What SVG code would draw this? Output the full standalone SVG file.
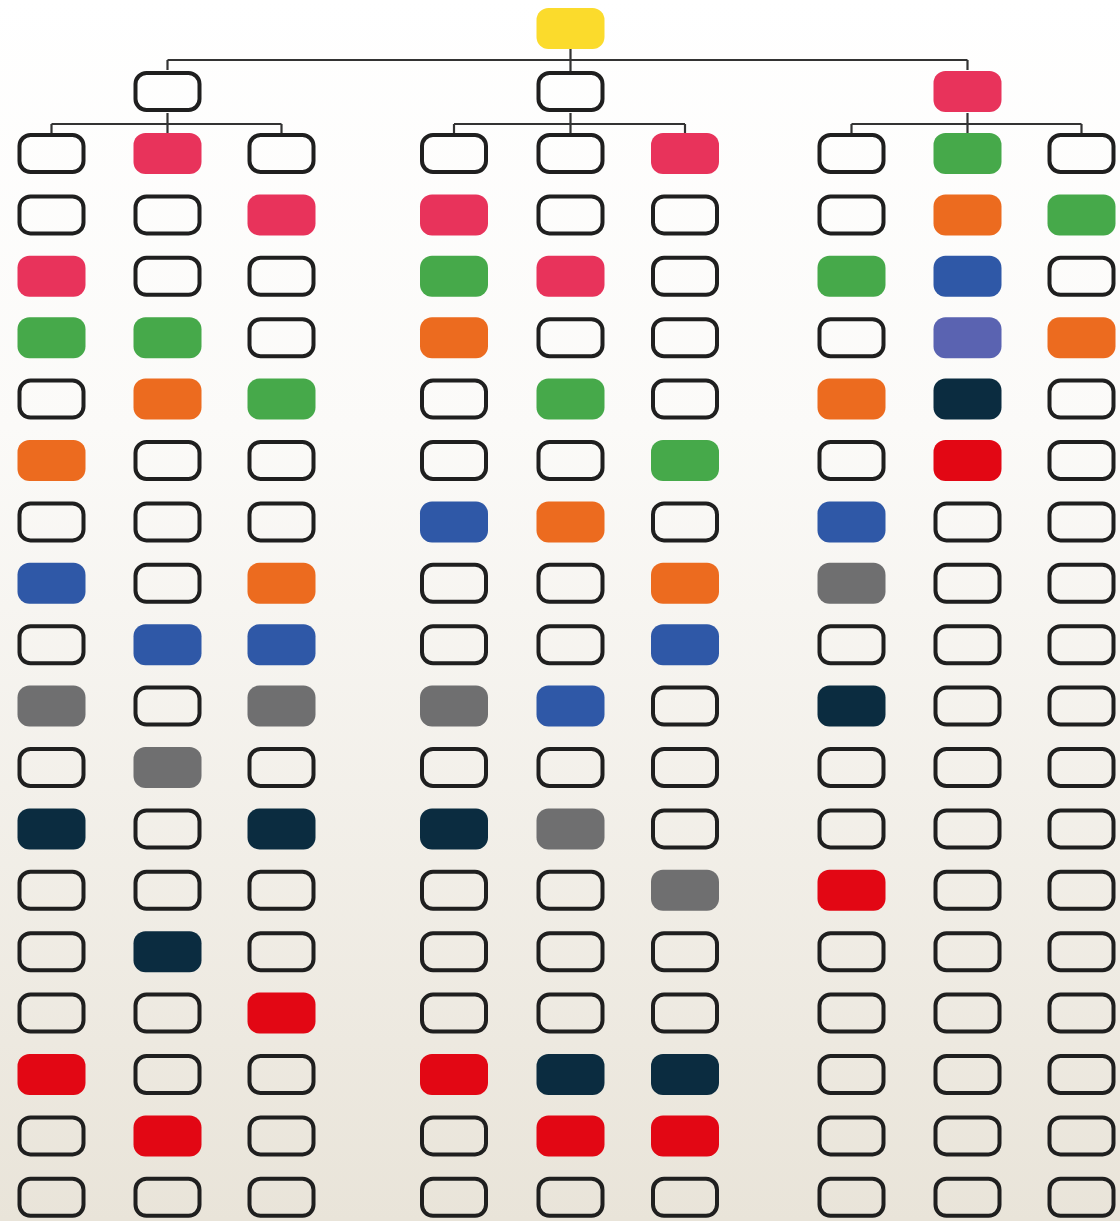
<svg xmlns="http://www.w3.org/2000/svg" xmlns:xlink="http://www.w3.org/1999/xlink" width="1120" height="1221" viewBox="0 0 1120 1221">
<defs>
<linearGradient id="bg" x1="0" y1="0" x2="0" y2="1">
<stop offset="0" stop-color="#ffffff"/>
<stop offset="0.35" stop-color="#fbfaf8"/>
<stop offset="1" stop-color="#e9e4d9"/>
</linearGradient>
<rect id="E" x="2" y="2" width="64" height="37" rx="11"/>
<rect id="F" x="0" y="0" width="68" height="41" rx="12"/>
</defs>
<style>
.e{fill:none;stroke:#1f1f1f;stroke-width:4}
.pk{fill:#e8335b}.gn{fill:#46a94a}.or{fill:#ec6b1f}.bl{fill:#2f58a7}.pu{fill:#5a63b1}.nv{fill:#0b2c40}.rd{fill:#e20714}.gy{fill:#6f6f70}.yl{fill:#fbdb2c}
.c{fill:none;stroke:#333;stroke-width:2.2}
</style>
<rect width="1120" height="1221" fill="url(#bg)"/>
<g id="connectors">
<path class="c" d="M570.5 48V60M167.5 60H967.5M167.5 60V70M570.5 60V71M967.5 60V70"/>
<path class="c" d="M167.5 113V124M51.5 124H281.5M51.5 124V133M167.5 124V133M281.5 124V133"/>
<path class="c" d="M570.5 113V124M454 124H685M454 124V133M570.5 124V133M685 124V133"/>
<path class="c" d="M967.5 113V124M851.5 124H1081.5M851.5 124V133M967.5 124V133M1081.5 124V133"/>
</g>
<g id="root" transform="translate(536.5,8)"><use href="#F" class="yl"/></g>
<g id="l2-a" transform="translate(133.5,71)"><use href="#E" class="e"/></g>
<g id="l2-b" transform="translate(536.5,71)"><use href="#E" class="e"/></g>
<g id="l2-c" transform="translate(933.5,71)"><use href="#F" class="pk"/></g>
<!-- row 1 -->
<g id="r1-a1" transform="translate(17.5,133)"><use href="#E" class="e"/></g>
<g id="r1-a2" transform="translate(133.5,133)"><use href="#F" class="pk"/></g>
<g id="r1-a3" transform="translate(247.5,133)"><use href="#E" class="e"/></g>
<g id="r1-b1" transform="translate(420,133)"><use href="#E" class="e"/></g>
<g id="r1-b2" transform="translate(536.5,133)"><use href="#E" class="e"/></g>
<g id="r1-b3" transform="translate(651,133)"><use href="#F" class="pk"/></g>
<g id="r1-c1" transform="translate(817.5,133)"><use href="#E" class="e"/></g>
<g id="r1-c2" transform="translate(933.5,133)"><use href="#F" class="gn"/></g>
<g id="r1-c3" transform="translate(1047.5,133)"><use href="#E" class="e"/></g>
<!-- row 2 -->
<g id="r2-a1" transform="translate(17.5,194.4)"><use href="#E" class="e"/></g>
<g id="r2-a2" transform="translate(133.5,194.4)"><use href="#E" class="e"/></g>
<g id="r2-a3" transform="translate(247.5,194.4)"><use href="#F" class="pk"/></g>
<g id="r2-b1" transform="translate(420,194.4)"><use href="#F" class="pk"/></g>
<g id="r2-b2" transform="translate(536.5,194.4)"><use href="#E" class="e"/></g>
<g id="r2-b3" transform="translate(651,194.4)"><use href="#E" class="e"/></g>
<g id="r2-c1" transform="translate(817.5,194.4)"><use href="#E" class="e"/></g>
<g id="r2-c2" transform="translate(933.5,194.4)"><use href="#F" class="or"/></g>
<g id="r2-c3" transform="translate(1047.5,194.4)"><use href="#F" class="gn"/></g>
<!-- row 3 -->
<g id="r3-a1" transform="translate(17.5,255.8)"><use href="#F" class="pk"/></g>
<g id="r3-a2" transform="translate(133.5,255.8)"><use href="#E" class="e"/></g>
<g id="r3-a3" transform="translate(247.5,255.8)"><use href="#E" class="e"/></g>
<g id="r3-b1" transform="translate(420,255.8)"><use href="#F" class="gn"/></g>
<g id="r3-b2" transform="translate(536.5,255.8)"><use href="#F" class="pk"/></g>
<g id="r3-b3" transform="translate(651,255.8)"><use href="#E" class="e"/></g>
<g id="r3-c1" transform="translate(817.5,255.8)"><use href="#F" class="gn"/></g>
<g id="r3-c2" transform="translate(933.5,255.8)"><use href="#F" class="bl"/></g>
<g id="r3-c3" transform="translate(1047.5,255.8)"><use href="#E" class="e"/></g>
<!-- row 4 -->
<g id="r4-a1" transform="translate(17.5,317.2)"><use href="#F" class="gn"/></g>
<g id="r4-a2" transform="translate(133.5,317.2)"><use href="#F" class="gn"/></g>
<g id="r4-a3" transform="translate(247.5,317.2)"><use href="#E" class="e"/></g>
<g id="r4-b1" transform="translate(420,317.2)"><use href="#F" class="or"/></g>
<g id="r4-b2" transform="translate(536.5,317.2)"><use href="#E" class="e"/></g>
<g id="r4-b3" transform="translate(651,317.2)"><use href="#E" class="e"/></g>
<g id="r4-c1" transform="translate(817.5,317.2)"><use href="#E" class="e"/></g>
<g id="r4-c2" transform="translate(933.5,317.2)"><use href="#F" class="pu"/></g>
<g id="r4-c3" transform="translate(1047.5,317.2)"><use href="#F" class="or"/></g>
<!-- row 5 -->
<g id="r5-a1" transform="translate(17.5,378.6)"><use href="#E" class="e"/></g>
<g id="r5-a2" transform="translate(133.5,378.6)"><use href="#F" class="or"/></g>
<g id="r5-a3" transform="translate(247.5,378.6)"><use href="#F" class="gn"/></g>
<g id="r5-b1" transform="translate(420,378.6)"><use href="#E" class="e"/></g>
<g id="r5-b2" transform="translate(536.5,378.6)"><use href="#F" class="gn"/></g>
<g id="r5-b3" transform="translate(651,378.6)"><use href="#E" class="e"/></g>
<g id="r5-c1" transform="translate(817.5,378.6)"><use href="#F" class="or"/></g>
<g id="r5-c2" transform="translate(933.5,378.6)"><use href="#F" class="nv"/></g>
<g id="r5-c3" transform="translate(1047.5,378.6)"><use href="#E" class="e"/></g>
<!-- row 6 -->
<g id="r6-a1" transform="translate(17.5,440)"><use href="#F" class="or"/></g>
<g id="r6-a2" transform="translate(133.5,440)"><use href="#E" class="e"/></g>
<g id="r6-a3" transform="translate(247.5,440)"><use href="#E" class="e"/></g>
<g id="r6-b1" transform="translate(420,440)"><use href="#E" class="e"/></g>
<g id="r6-b2" transform="translate(536.5,440)"><use href="#E" class="e"/></g>
<g id="r6-b3" transform="translate(651,440)"><use href="#F" class="gn"/></g>
<g id="r6-c1" transform="translate(817.5,440)"><use href="#E" class="e"/></g>
<g id="r6-c2" transform="translate(933.5,440)"><use href="#F" class="rd"/></g>
<g id="r6-c3" transform="translate(1047.5,440)"><use href="#E" class="e"/></g>
<!-- row 7 -->
<g id="r7-a1" transform="translate(17.5,501.4)"><use href="#E" class="e"/></g>
<g id="r7-a2" transform="translate(133.5,501.4)"><use href="#E" class="e"/></g>
<g id="r7-a3" transform="translate(247.5,501.4)"><use href="#E" class="e"/></g>
<g id="r7-b1" transform="translate(420,501.4)"><use href="#F" class="bl"/></g>
<g id="r7-b2" transform="translate(536.5,501.4)"><use href="#F" class="or"/></g>
<g id="r7-b3" transform="translate(651,501.4)"><use href="#E" class="e"/></g>
<g id="r7-c1" transform="translate(817.5,501.4)"><use href="#F" class="bl"/></g>
<g id="r7-c2" transform="translate(933.5,501.4)"><use href="#E" class="e"/></g>
<g id="r7-c3" transform="translate(1047.5,501.4)"><use href="#E" class="e"/></g>
<!-- row 8 -->
<g id="r8-a1" transform="translate(17.5,562.8)"><use href="#F" class="bl"/></g>
<g id="r8-a2" transform="translate(133.5,562.8)"><use href="#E" class="e"/></g>
<g id="r8-a3" transform="translate(247.5,562.8)"><use href="#F" class="or"/></g>
<g id="r8-b1" transform="translate(420,562.8)"><use href="#E" class="e"/></g>
<g id="r8-b2" transform="translate(536.5,562.8)"><use href="#E" class="e"/></g>
<g id="r8-b3" transform="translate(651,562.8)"><use href="#F" class="or"/></g>
<g id="r8-c1" transform="translate(817.5,562.8)"><use href="#F" class="gy"/></g>
<g id="r8-c2" transform="translate(933.5,562.8)"><use href="#E" class="e"/></g>
<g id="r8-c3" transform="translate(1047.5,562.8)"><use href="#E" class="e"/></g>
<!-- row 9 -->
<g id="r9-a1" transform="translate(17.5,624.2)"><use href="#E" class="e"/></g>
<g id="r9-a2" transform="translate(133.5,624.2)"><use href="#F" class="bl"/></g>
<g id="r9-a3" transform="translate(247.5,624.2)"><use href="#F" class="bl"/></g>
<g id="r9-b1" transform="translate(420,624.2)"><use href="#E" class="e"/></g>
<g id="r9-b2" transform="translate(536.5,624.2)"><use href="#E" class="e"/></g>
<g id="r9-b3" transform="translate(651,624.2)"><use href="#F" class="bl"/></g>
<g id="r9-c1" transform="translate(817.5,624.2)"><use href="#E" class="e"/></g>
<g id="r9-c2" transform="translate(933.5,624.2)"><use href="#E" class="e"/></g>
<g id="r9-c3" transform="translate(1047.5,624.2)"><use href="#E" class="e"/></g>
<!-- row 10 -->
<g id="r10-a1" transform="translate(17.5,685.6)"><use href="#F" class="gy"/></g>
<g id="r10-a2" transform="translate(133.5,685.6)"><use href="#E" class="e"/></g>
<g id="r10-a3" transform="translate(247.5,685.6)"><use href="#F" class="gy"/></g>
<g id="r10-b1" transform="translate(420,685.6)"><use href="#F" class="gy"/></g>
<g id="r10-b2" transform="translate(536.5,685.6)"><use href="#F" class="bl"/></g>
<g id="r10-b3" transform="translate(651,685.6)"><use href="#E" class="e"/></g>
<g id="r10-c1" transform="translate(817.5,685.6)"><use href="#F" class="nv"/></g>
<g id="r10-c2" transform="translate(933.5,685.6)"><use href="#E" class="e"/></g>
<g id="r10-c3" transform="translate(1047.5,685.6)"><use href="#E" class="e"/></g>
<!-- row 11 -->
<g id="r11-a1" transform="translate(17.5,747)"><use href="#E" class="e"/></g>
<g id="r11-a2" transform="translate(133.5,747)"><use href="#F" class="gy"/></g>
<g id="r11-a3" transform="translate(247.5,747)"><use href="#E" class="e"/></g>
<g id="r11-b1" transform="translate(420,747)"><use href="#E" class="e"/></g>
<g id="r11-b2" transform="translate(536.5,747)"><use href="#E" class="e"/></g>
<g id="r11-b3" transform="translate(651,747)"><use href="#E" class="e"/></g>
<g id="r11-c1" transform="translate(817.5,747)"><use href="#E" class="e"/></g>
<g id="r11-c2" transform="translate(933.5,747)"><use href="#E" class="e"/></g>
<g id="r11-c3" transform="translate(1047.5,747)"><use href="#E" class="e"/></g>
<!-- row 12 -->
<g id="r12-a1" transform="translate(17.5,808.4)"><use href="#F" class="nv"/></g>
<g id="r12-a2" transform="translate(133.5,808.4)"><use href="#E" class="e"/></g>
<g id="r12-a3" transform="translate(247.5,808.4)"><use href="#F" class="nv"/></g>
<g id="r12-b1" transform="translate(420,808.4)"><use href="#F" class="nv"/></g>
<g id="r12-b2" transform="translate(536.5,808.4)"><use href="#F" class="gy"/></g>
<g id="r12-b3" transform="translate(651,808.4)"><use href="#E" class="e"/></g>
<g id="r12-c1" transform="translate(817.5,808.4)"><use href="#E" class="e"/></g>
<g id="r12-c2" transform="translate(933.5,808.4)"><use href="#E" class="e"/></g>
<g id="r12-c3" transform="translate(1047.5,808.4)"><use href="#E" class="e"/></g>
<!-- row 13 -->
<g id="r13-a1" transform="translate(17.5,869.8)"><use href="#E" class="e"/></g>
<g id="r13-a2" transform="translate(133.5,869.8)"><use href="#E" class="e"/></g>
<g id="r13-a3" transform="translate(247.5,869.8)"><use href="#E" class="e"/></g>
<g id="r13-b1" transform="translate(420,869.8)"><use href="#E" class="e"/></g>
<g id="r13-b2" transform="translate(536.5,869.8)"><use href="#E" class="e"/></g>
<g id="r13-b3" transform="translate(651,869.8)"><use href="#F" class="gy"/></g>
<g id="r13-c1" transform="translate(817.5,869.8)"><use href="#F" class="rd"/></g>
<g id="r13-c2" transform="translate(933.5,869.8)"><use href="#E" class="e"/></g>
<g id="r13-c3" transform="translate(1047.5,869.8)"><use href="#E" class="e"/></g>
<!-- row 14 -->
<g id="r14-a1" transform="translate(17.5,931.2)"><use href="#E" class="e"/></g>
<g id="r14-a2" transform="translate(133.5,931.2)"><use href="#F" class="nv"/></g>
<g id="r14-a3" transform="translate(247.5,931.2)"><use href="#E" class="e"/></g>
<g id="r14-b1" transform="translate(420,931.2)"><use href="#E" class="e"/></g>
<g id="r14-b2" transform="translate(536.5,931.2)"><use href="#E" class="e"/></g>
<g id="r14-b3" transform="translate(651,931.2)"><use href="#E" class="e"/></g>
<g id="r14-c1" transform="translate(817.5,931.2)"><use href="#E" class="e"/></g>
<g id="r14-c2" transform="translate(933.5,931.2)"><use href="#E" class="e"/></g>
<g id="r14-c3" transform="translate(1047.5,931.2)"><use href="#E" class="e"/></g>
<!-- row 15 -->
<g id="r15-a1" transform="translate(17.5,992.6)"><use href="#E" class="e"/></g>
<g id="r15-a2" transform="translate(133.5,992.6)"><use href="#E" class="e"/></g>
<g id="r15-a3" transform="translate(247.5,992.6)"><use href="#F" class="rd"/></g>
<g id="r15-b1" transform="translate(420,992.6)"><use href="#E" class="e"/></g>
<g id="r15-b2" transform="translate(536.5,992.6)"><use href="#E" class="e"/></g>
<g id="r15-b3" transform="translate(651,992.6)"><use href="#E" class="e"/></g>
<g id="r15-c1" transform="translate(817.5,992.6)"><use href="#E" class="e"/></g>
<g id="r15-c2" transform="translate(933.5,992.6)"><use href="#E" class="e"/></g>
<g id="r15-c3" transform="translate(1047.5,992.6)"><use href="#E" class="e"/></g>
<!-- row 16 -->
<g id="r16-a1" transform="translate(17.5,1054)"><use href="#F" class="rd"/></g>
<g id="r16-a2" transform="translate(133.5,1054)"><use href="#E" class="e"/></g>
<g id="r16-a3" transform="translate(247.5,1054)"><use href="#E" class="e"/></g>
<g id="r16-b1" transform="translate(420,1054)"><use href="#F" class="rd"/></g>
<g id="r16-b2" transform="translate(536.5,1054)"><use href="#F" class="nv"/></g>
<g id="r16-b3" transform="translate(651,1054)"><use href="#F" class="nv"/></g>
<g id="r16-c1" transform="translate(817.5,1054)"><use href="#E" class="e"/></g>
<g id="r16-c2" transform="translate(933.5,1054)"><use href="#E" class="e"/></g>
<g id="r16-c3" transform="translate(1047.5,1054)"><use href="#E" class="e"/></g>
<!-- row 17 -->
<g id="r17-a1" transform="translate(17.5,1115.4)"><use href="#E" class="e"/></g>
<g id="r17-a2" transform="translate(133.5,1115.4)"><use href="#F" class="rd"/></g>
<g id="r17-a3" transform="translate(247.5,1115.4)"><use href="#E" class="e"/></g>
<g id="r17-b1" transform="translate(420,1115.4)"><use href="#E" class="e"/></g>
<g id="r17-b2" transform="translate(536.5,1115.4)"><use href="#F" class="rd"/></g>
<g id="r17-b3" transform="translate(651,1115.4)"><use href="#F" class="rd"/></g>
<g id="r17-c1" transform="translate(817.5,1115.4)"><use href="#E" class="e"/></g>
<g id="r17-c2" transform="translate(933.5,1115.4)"><use href="#E" class="e"/></g>
<g id="r17-c3" transform="translate(1047.5,1115.4)"><use href="#E" class="e"/></g>
<!-- row 18 -->
<g id="r18-a1" transform="translate(17.5,1176.8)"><use href="#E" class="e"/></g>
<g id="r18-a2" transform="translate(133.5,1176.8)"><use href="#E" class="e"/></g>
<g id="r18-a3" transform="translate(247.5,1176.8)"><use href="#E" class="e"/></g>
<g id="r18-b1" transform="translate(420,1176.8)"><use href="#E" class="e"/></g>
<g id="r18-b2" transform="translate(536.5,1176.8)"><use href="#E" class="e"/></g>
<g id="r18-b3" transform="translate(651,1176.8)"><use href="#E" class="e"/></g>
<g id="r18-c1" transform="translate(817.5,1176.8)"><use href="#E" class="e"/></g>
<g id="r18-c2" transform="translate(933.5,1176.8)"><use href="#E" class="e"/></g>
<g id="r18-c3" transform="translate(1047.5,1176.8)"><use href="#E" class="e"/></g>
</svg>
